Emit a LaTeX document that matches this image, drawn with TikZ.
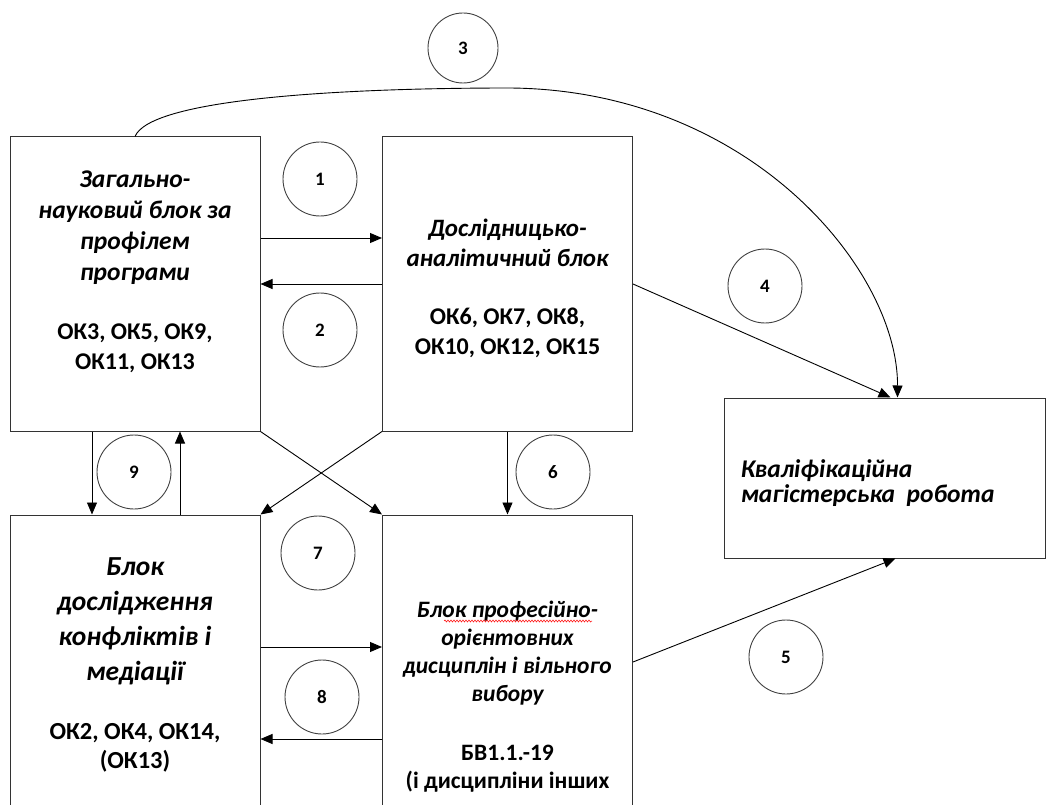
\documentclass[tikz,border=0pt]{standalone}
\usepackage{fontspec}
\setmainfont{Carlito}
\usetikzlibrary{arrows.meta,decorations.pathmorphing}

\tikzstyle{block} = [draw=black!80,rectangle,line width=1pt,inner sep=0pt,minimum width=250pt,minimum height=294pt]
\tikzstyle{num} = [draw=black!75,circle,inner sep=0pt,minimum size=74pt,font=\fontsize{19}{22}\selectfont\bfseries]
\tikzstyle{title} = [align=center,font=\fontsize{25.5}{31}\selectfont\bfseries\itshape]
\tikzstyle{codes} = [align=center,font=\fontsize{24}{30}\selectfont\bfseries]

\begin{document}
\begin{tikzpicture}[x=1pt,y=-1pt,node distance=372.5pt,line width=0.9pt,>={Triangle[length=12pt,width=10pt]}]
	\useasboundingbox (0,0) rectangle (1058,805);
	\clip (0,0) rectangle (1058,805);
	% blocks
	\node (gen) [block] at (135,284) {};
	\node (res) [block,right of=gen] {};
	\node (conf) [block,below of=gen,node distance=378pt] {};
	\node (prof) [block,right of=conf] {};
	\node (qual) [block,minimum width=321pt,minimum height=160pt] at (884.5,478) {};
	% texts
	\node (gen-t) [title] at (135,228) {Загально-\\науковий блок за\\профілем\\програми};
	\node (gen-c) [codes] at (135,348) {ОК3, ОК5, ОК9,\\ОК11, ОК13};
	\node (res-t) [title,font=\fontsize{25}{30}\selectfont\bfseries\itshape] at (507.5,243) {Дослідницько-\\аналітичний блок};
	\node (res-c) [codes] at (507.5,333) {ОК6, ОК7, ОК8,\\ОК10, ОК12, ОК15};
	\node (conf-t) [title,font=\fontsize{27.5}{35}\selectfont\bfseries\itshape] at (135,621) {Блок\\дослідження\\конфліктів і\\медіації};
	\node (conf-c) [codes,font=\fontsize{24.5}{29}\selectfont\bfseries] at (135,748) {ОК2, ОК4, ОК14,\\(ОК13)};
	\node (prof-t) [title,font=\fontsize{23.5}{28}\selectfont\bfseries\itshape] at (507.5,653) {Блок професійно-\\орієнтовних\\дисциплін і вільного\\вибору};
	\node (prof-c) [codes,font=\fontsize{23.5}{28}\selectfont\bfseries] at (507.5,769) {БВ1.1.-19\\(і дисципліни інших};
	\node (qual-t) [title,align=left,anchor=west,font=\fontsize{25.5}{25}\selectfont\bfseries\itshape] at (737,483) {Кваліфікаційна\\магістерська~ робота};
	\draw [red,line width=0.5pt,decorate,decoration={snake,amplitude=1pt,segment length=3pt}] (444,621) -- (592,621);
	% numbers
	\node (c1) [num] at (320,179) {1};
	\node (c2) [num] at (320,330) {2};
	\node (c3) [num,minimum size=70pt] at (463,48) {3};
	\node (c4) [num] at (765,286) {4};
	\node (c5) [num] at (786,657) {5};
	\node (c6) [num] at (553,472) {6};
	\node (c7) [num] at (318,553) {7};
	\node (c8) [num] at (322,697) {8};
	\node (c9) [num] at (134,472) {9};
	% links
	\coordinate (top) at (510,88);
	\draw [->] ([yshift=46pt]gen.east) -- ([yshift=46pt]res.west);
	\draw [->] (res.west) -- (gen.east);
	\draw [->] (gen.north) .. controls (150,100) and (330,88) .. (top) .. controls (750,90) and (898,270) .. ([xshift=13pt]qual.north);
	\draw [->] (res.east) -- ([xshift=6pt]qual.north);
	\draw [->] (prof.east) -- ([xshift=11pt]qual.south);
	\draw [->] (res.south) -- (prof.north);
	\draw [->] (gen.south east) -- (prof.north west);
	\draw [->] (res.south west) -- (conf.north east);
	\draw [->] ([yshift=15pt]conf.east) -- ([yshift=15pt]prof.west);
	\draw [->] ([yshift=-77pt]prof.west) -- ([yshift=-77pt]conf.east);
	\draw [->] ([xshift=-43pt]gen.south) -- ([xshift=-43pt]conf.north);
	\draw [->] ([xshift=45pt]conf.north) -- ([xshift=45pt]gen.south);
\end{tikzpicture}
\end{document}
